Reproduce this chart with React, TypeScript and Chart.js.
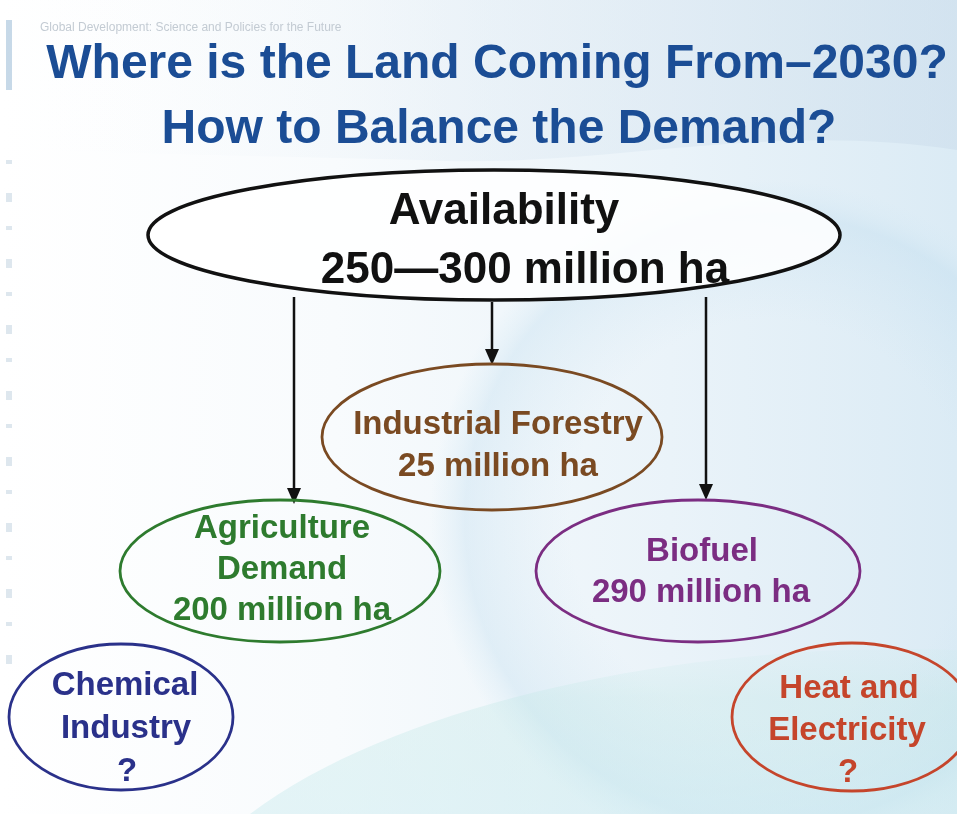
import { useEffect, useRef } from "react";
import { Chart, registerables } from "chart.js";

Chart.register(...registerables);

// ---- Diagram data ----
const nodeNames = [
  "Availability",
  "Industrial Forestry",
  "Agriculture Demand",
  "Biofuel",
  "Chemical Industry",
  "Heat and Electricity",
];
const nodeLines = [
  ["Availability", "250\u2014300 million ha"],
  ["Industrial Forestry", "25 million ha"],
  ["Agriculture", "Demand", "200 million ha"],
  ["Biofuel", "290 million ha"],
  ["Chemical", "Industry", "?"],
  ["Heat and", "Electricity", "?"],
];
const nodeX = [494, 492, 280, 698, 121, 852];
const nodeY = [235, 437, 571, 571, 717, 717];
const nodeRX = [346, 170, 160, 162, 112, 120];
const nodeRY = [65, 73, 71, 71, 73, 74];
const textDy = [6, 9, -1, 1, 12, 14];
const lineDx = [[10, 31], [6, 6], [2, 2, 2], [4, 3], [4, 5, 6], [-3, -5, -4]];
const lineGap = [59, 42, 41, 41, 43, 42];
const nodeColors = ["#111111", "#7a4a22", "#2e7b2e", "#7b2d82", "#2a318a", "#c5452b"];
const nodeFill = ["rgba(255,255,255,0.85)", "rgba(0,0,0,0)", "rgba(0,0,0,0)", "rgba(0,0,0,0)", "rgba(0,0,0,0)", "rgba(0,0,0,0)"];
const nodeFontSize = [44, 33, 33, 33, 33, 33];

// arrows: from Availability to three demand nodes
const arrowX = [294, 492, 706];
const arrowFromY = [297, 302, 297];
const arrowToY = [504, 365, 500];

const titleLines = ["Where is the Land Coming From\u20132030?", "How to Balance the Demand?"];
const subtitle = "Global Development: Science and Policies for the Future";

const W = 957;
const H = 814;

export default function App() {
  const ref = useRef<HTMLCanvasElement | null>(null);

  useEffect(() => {
    const canvas = ref.current;
    if (!canvas) return;

    const bgPlugin = {
      id: "bg",
      beforeDraw(chart: any) {
        const ctx = chart.ctx as CanvasRenderingContext2D;
        ctx.save();
        const g = ctx.createLinearGradient(0, 0, W, 0);
        g.addColorStop(0, "#ffffff");
        g.addColorStop(0.35, "#f8fbfd");
        g.addColorStop(0.7, "#eaf3f9");
        g.addColorStop(1, "#dbebf5");
        ctx.fillStyle = g;
        ctx.fillRect(0, 0, W, H);
        // top band
        const tg = ctx.createLinearGradient(0, 0, W, 0);
        tg.addColorStop(0, "rgba(255,255,255,0)");
        tg.addColorStop(0.5, "rgba(220,232,242,0.35)");
        tg.addColorStop(1, "rgba(205,222,236,0.6)");
        ctx.fillStyle = tg;
        ctx.beginPath();
        ctx.moveTo(0, 0);
        ctx.lineTo(W, 0);
        ctx.lineTo(W, 150);
        ctx.bezierCurveTo(760, 120, 600, 170, 420, 160);
        ctx.lineTo(0, 150);
        ctx.closePath();
        ctx.fill();
        // big faint circle on the right
        const rg = ctx.createRadialGradient(770, 520, 200, 770, 520, 340);
        rg.addColorStop(0, "rgba(200,225,240,0)");
        rg.addColorStop(0.75, "rgba(190,220,238,0.35)");
        rg.addColorStop(0.9, "rgba(210,232,244,0.2)");
        rg.addColorStop(1, "rgba(210,232,244,0)");
        ctx.fillStyle = rg;
        ctx.fillRect(0, 0, W, H);
        // bottom teal band
        const bg = ctx.createLinearGradient(0, 620, 0, H);
        bg.addColorStop(0, "rgba(200,235,235,0)");
        bg.addColorStop(0.4, "rgba(195,232,230,0.35)");
        bg.addColorStop(1, "rgba(205,236,240,0.5)");
        ctx.fillStyle = bg;
        ctx.beginPath();
        ctx.moveTo(250, H);
        ctx.bezierCurveTo(400, 700, 700, 640, W, 650);
        ctx.lineTo(W, H);
        ctx.closePath();
        ctx.fill();
        // left strip marks (faint)
        ctx.fillStyle = "rgba(160,185,205,0.35)";
        for (let y = 160; y < 660; y += 33) {
          ctx.fillRect(6, y, 6, (y / 33) % 2 < 1 ? 4 : 9);
        }
        ctx.fillStyle = "rgba(130,170,205,0.45)";
        ctx.fillRect(6, 20, 6, 70);
        // subtitle + title
        ctx.textAlign = "left";
        ctx.textBaseline = "middle";
        ctx.fillStyle = "#c3cbd3";
        ctx.font = "12px 'Liberation Sans', Arial, sans-serif";
        ctx.fillText(subtitle, 40, 28);
        ctx.textAlign = "center";
        ctx.fillStyle = "#1b4d95";
        ctx.font = "bold 48px 'Liberation Sans', Arial, sans-serif";
        ctx.fillText(titleLines[0], 497, 65);
        ctx.fillText(titleLines[1], 499, 130);
        ctx.restore();
      },
    };

    const nodesPlugin = {
      id: "nodes",
      afterDatasetsDraw(chart: any) {
        const ctx = chart.ctx as CanvasRenderingContext2D;
        const xs = chart.scales.x;
        const ys = chart.scales.y;
        // arrowheads
        ctx.save();
        ctx.fillStyle = "#111";
        for (let i = 0; i < arrowX.length; i++) {
          const px = xs.getPixelForValue(arrowX[i]);
          const py = ys.getPixelForValue(arrowToY[i]);
          ctx.beginPath();
          ctx.moveTo(px, py);
          ctx.lineTo(px - 7, py - 16);
          ctx.lineTo(px + 7, py - 16);
          ctx.closePath();
          ctx.fill();
        }
        // ellipses + labels
        const meta = chart.getDatasetMeta(0);
        meta.data.forEach((pt: any, i: number) => {
          const cx = pt.x;
          const cy = pt.y;
          const rx = Math.abs(xs.getPixelForValue(nodeX[i] + nodeRX[i]) - cx);
          const ry = Math.abs(ys.getPixelForValue(nodeY[i] + nodeRY[i]) - cy);
          ctx.beginPath();
          ctx.ellipse(cx, cy, rx, ry, 0, 0, Math.PI * 2);
          ctx.fillStyle = nodeFill[i];
          ctx.fill();
          ctx.lineWidth = i === 0 ? 3.5 : 2.8;
          ctx.strokeStyle = nodeColors[i];
          ctx.stroke();
          const lines = nodeLines[i];
          ctx.fillStyle = nodeColors[i];
          ctx.textAlign = "center";
          ctx.textBaseline = "middle";
          ctx.font = `bold ${nodeFontSize[i]}px 'Liberation Sans', Arial, sans-serif`;
          const gap = lineGap[i];
          const start = cy + textDy[i] - ((lines.length - 1) * gap) / 2;
          lines.forEach((ln, k) => ctx.fillText(ln, cx + lineDx[i][k], start + k * gap));
        });
        ctx.restore();
      },
    };

    const arrowSets = arrowX.map((x, i) => ({
      type: "line" as const,
      label: "arrow to " + nodeNames[i === 0 ? 2 : i === 1 ? 1 : 3],
      data: [
        { x, y: arrowFromY[i] },
        { x, y: arrowToY[i] - 14 },
      ],
      borderColor: "#111",
      borderWidth: 2.5,
      pointRadius: 0,
      showLine: true,
      fill: false,
    }));

    const chart = new Chart(canvas, {
      type: "scatter",
      data: {
        labels: nodeNames,
        datasets: [
          {
            label: "nodes",
            data: nodeX.map((x, i) => ({ x, y: nodeY[i] })),
            pointRadius: 0,
            pointHoverRadius: 0,
          } as any,
          ...arrowSets,
        ],
      },
      options: {
        responsive: false,
        animation: false,
        events: [],
        layout: { padding: 0 },
        plugins: { legend: { display: false }, tooltip: { enabled: false }, title: { display: false } },
        scales: {
          x: { type: "linear", min: 0, max: W, display: false },
          y: { type: "linear", min: 0, max: H, reverse: true, display: false },
        },
      },
      plugins: [bgPlugin, nodesPlugin],
    });
    return () => chart.destroy();
  }, []);

  return (
    <div style={{ position: "absolute", left: 0, top: 0, width: W, height: H }}>
      <canvas ref={ref} width={W} height={H} style={{ display: "block" }} />
    </div>
  );
}
